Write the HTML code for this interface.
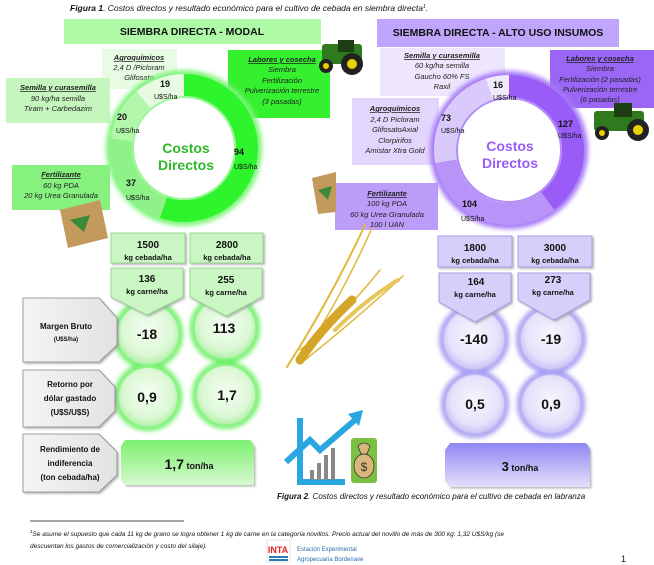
<!DOCTYPE html>
<html><head><meta charset="utf-8"><style>
html,body{margin:0;padding:0;background:#fff;}
svg{display:block;font-family:"Liberation Sans",sans-serif;}
.i{font-style:italic;}
</style></head><body>
<svg width="654" height="565" viewBox="0 0 654 565" xmlns="http://www.w3.org/2000/svg">
<defs>
<filter id="gg" x="-30%" y="-30%" width="160%" height="160%"><feGaussianBlur stdDeviation="2.5"/></filter>
<filter id="sh" x="-10%" y="-10%" width="130%" height="130%"><feDropShadow dx="1.5" dy="1.5" stdDeviation="1" flood-color="#999" flood-opacity="0.7"/></filter>
<radialGradient id="gc" cx="50%" cy="45%" r="55%"><stop offset="0" stop-color="#f4fdf2"/><stop offset="0.75" stop-color="#dcf8d6"/><stop offset="1" stop-color="#b6f0ac"/></radialGradient>
<radialGradient id="pc" cx="50%" cy="45%" r="55%"><stop offset="0" stop-color="#f8f5fe"/><stop offset="0.75" stop-color="#e6e2fb"/><stop offset="1" stop-color="#cbc3f6"/></radialGradient>
<linearGradient id="gb" x1="0" y1="0" x2="0" y2="1"><stop offset="0" stop-color="#7cf06e"/><stop offset="1" stop-color="#d6f9cf"/></linearGradient>
<linearGradient id="pb" x1="0" y1="0" x2="0" y2="1"><stop offset="0" stop-color="#8f86f2"/><stop offset="1" stop-color="#e4e0fb"/></linearGradient>
<linearGradient id="lb" x1="0" y1="0" x2="1" y2="0"><stop offset="0" stop-color="#f4f4f4"/><stop offset="1" stop-color="#e2e2e2"/></linearGradient>
</defs>

<!-- Figure 1 caption -->
<text x="70" y="11" font-size="8.5" class="i" fill="#111"><tspan font-weight="bold">Figura 1</tspan>. Costos directos y resultado económico para el cultivo de cebada en siembra directa<tspan font-size="5" dy="-3">1</tspan><tspan dy="3">.</tspan></text>

<!-- headers -->
<rect x="64" y="19" width="257" height="25" fill="#aefaa6"/>
<text x="192" y="35" font-size="10.5" font-weight="bold" text-anchor="middle" fill="#111">SIEMBRA DIRECTA - MODAL</text>
<rect x="377" y="19" width="242" height="28" fill="#bfa5fb"/>
<text x="498" y="36" font-size="10.5" font-weight="bold" text-anchor="middle" fill="#111">SIEMBRA DIRECTA - ALTO USO INSUMOS</text>

<!-- left boxes -->
<rect x="102" y="49" width="75" height="40" fill="#e8fbe3"/>
<rect x="6" y="78" width="104" height="45" fill="#c5f6bd"/>
<rect x="12" y="165" width="98" height="45" fill="#86f17e"/>
<rect x="228" y="50" width="102" height="68" fill="#35f02f"/>
<g font-size="7.5" class="i" text-anchor="middle" fill="#222">
<text x="139" y="60" font-weight="bold" text-decoration="underline">Agroquímicos</text>
<text x="139" y="70">2,4 D /Picloram</text>
<text x="139" y="80">Glifosato</text>
<text x="58" y="90" font-weight="bold" text-decoration="underline">Semilla y curasemilla</text>
<text x="58" y="101">90 kg/ha semilla</text>
<text x="58" y="111">Tiram + Carbedazim</text>
<text x="61" y="177" font-weight="bold" text-decoration="underline">Fertilizante</text>
<text x="61" y="188">60 kg PDA</text>
<text x="61" y="198">20 kg Urea Granulada</text>
<text x="282" y="62" font-weight="bold" text-decoration="underline">Labores y cosecha</text>
<text x="282" y="72">Siembra</text>
<text x="282" y="83">Fertilización</text>
<text x="282" y="93">Pulverización terrestre</text>
<text x="282" y="104">(3 pasadas)</text>
</g>

<!-- right boxes -->
<rect x="380" y="48" width="125" height="48" fill="#eee6fd"/>
<rect x="352" y="98" width="87" height="67" fill="#e3d6fc"/>
<rect x="335" y="183" width="103" height="47" fill="#bb9cf9"/>
<rect x="550" y="50" width="104" height="58" fill="#9a66f5"/>
<g font-size="7.5" class="i" text-anchor="middle" fill="#222">
<text x="442" y="58" font-weight="bold" text-decoration="underline">Semilla y curasemilla</text>
<text x="442" y="68">60 kg/ha semilla</text>
<text x="442" y="79">Gaucho 60% FS</text>
<text x="442" y="89">Raxil</text>
<text x="395" y="111" font-weight="bold" text-decoration="underline">Agroquímicos</text>
<text x="395" y="122">2,4 D Picloram</text>
<text x="395" y="132">GlifosatoAxial</text>
<text x="395" y="143">Clorpirifos</text>
<text x="395" y="153">Amistar Xtra Gold</text>
<text x="387" y="196" font-weight="bold" text-decoration="underline">Fertilizante</text>
<text x="387" y="206">100 kg PDA</text>
<text x="387" y="217">60 kg Urea Granulada</text>
<text x="387" y="227">100 l UAN</text>
<text x="600" y="61" font-weight="bold" text-decoration="underline">Labores y cosecha</text>
<text x="600" y="71">Siembra</text>
<text x="600" y="82">Fertilización (2 pasadas)</text>
<text x="600" y="92">Pulverización terrestre</text>
<text x="600" y="102">(6 pasadas)</text>
</g>

<!-- left donut -->
<circle cx="184" cy="148" r="74" fill="none" stroke="#7ef47a" stroke-width="8" filter="url(#gg)"/>
<g transform="rotate(-90 184 148)" fill="none" stroke-width="22">
<circle cx="184" cy="148" r="63" stroke="#2ef52b" stroke-dasharray="218.9 395.8" stroke-dashoffset="0"/>
<circle cx="184" cy="148" r="63" stroke="#8ef289" stroke-dasharray="86.1 395.8" stroke-dashoffset="-218.9"/>
<circle cx="184" cy="148" r="63" stroke="#b2f7aa" stroke-dasharray="46.6 395.8" stroke-dashoffset="-305"/>
<circle cx="184" cy="148" r="63" stroke="#e6fbe2" stroke-dasharray="44.2 395.8" stroke-dashoffset="-351.6"/>
</g>
<circle cx="184" cy="148" r="51" fill="#fff" stroke="#9ef59a" stroke-width="2"/>
<text x="186" y="153" font-size="14" font-weight="bold" text-anchor="middle" fill="#2eb82a">Costos</text>
<text x="186" y="170" font-size="14" font-weight="bold" text-anchor="middle" fill="#2eb82a">Directos</text>
<g fill="#111">
<text x="160" y="87" font-size="9" font-weight="bold">19</text><text x="154" y="99" font-size="7">U$S/ha</text>
<text x="117" y="120" font-size="9" font-weight="bold">20</text><text x="116" y="133" font-size="7">U$S/ha</text>
<text x="234" y="155" font-size="9" font-weight="bold">94</text><text x="234" y="169" font-size="7">U$S/ha</text>
<text x="126" y="186" font-size="9" font-weight="bold">37</text><text x="126" y="200" font-size="7">U$S/ha</text>
</g>

<!-- right donut -->
<circle cx="509" cy="150" r="75" fill="none" stroke="#a679f8" stroke-width="8" filter="url(#gg)"/>
<g transform="rotate(-90 509 150)" fill="none" stroke-width="22">
<circle cx="509" cy="150" r="64" stroke="#9a5cf6" stroke-dasharray="159.6 402.1" stroke-dashoffset="0"/>
<circle cx="509" cy="150" r="64" stroke="#b893f8" stroke-dasharray="130.7 402.1" stroke-dashoffset="-159.6"/>
<circle cx="509" cy="150" r="64" stroke="#dacafb" stroke-dasharray="91.7 402.1" stroke-dashoffset="-290.3"/>
<circle cx="509" cy="150" r="64" stroke="#f0eafd" stroke-dasharray="20.1 402.1" stroke-dashoffset="-382"/>
</g>
<circle cx="509" cy="150" r="52" fill="#fff" stroke="#b48cf8" stroke-width="2"/>
<text x="510" y="151" font-size="14" font-weight="bold" text-anchor="middle" fill="#9a5cf6">Costos</text>
<text x="510" y="168" font-size="14" font-weight="bold" text-anchor="middle" fill="#9a5cf6">Directos</text>
<g fill="#111">
<text x="493" y="88" font-size="9" font-weight="bold">16</text><text x="493" y="100" font-size="7">U$S/ha</text>
<text x="441" y="121" font-size="9" font-weight="bold">73</text><text x="441" y="133" font-size="7">U$S/ha</text>
<text x="558" y="127" font-size="9" font-weight="bold">127</text><text x="558" y="138" font-size="7">U$S/ha</text>
<text x="462" y="207" font-size="9" font-weight="bold">104</text><text x="461" y="221" font-size="7">U$S/ha</text>
</g>

<!-- tractors (simplified) -->
<g>
<rect x="322" y="44" width="40" height="20" rx="3" fill="#2f7a1e"/><rect x="338" y="40" width="16" height="12" fill="#1d3d12"/>
<circle cx="326" cy="66" r="7" fill="#222"/><circle cx="326" cy="66" r="3" fill="#e8d200"/>
<circle cx="352" cy="64" r="11" fill="#222"/><circle cx="352" cy="64" r="5" fill="#e8d200"/>
</g>
<g>
<rect x="594" y="111" width="50" height="20" rx="3" fill="#2f7a1e"/><rect x="614" y="103" width="18" height="14" fill="#1d3d12"/>
<circle cx="602" cy="133" r="7" fill="#222"/><circle cx="602" cy="133" r="3" fill="#e8d200"/>
<circle cx="638" cy="130" r="11" fill="#222"/><circle cx="638" cy="130" r="5" fill="#e8d200"/>
</g>
<!-- bags -->
<g>
<polygon points="60,210 100,200 108,238 68,248" fill="#c49a5c"/><polygon points="70,220 90,215 84,232" fill="#3a8a3a"/>
<polygon points="312,178 336,172 336,212 318,214" fill="#c49a5c"/><polygon points="318,190 332,186 328,200" fill="#3a8a3a"/>
</g>

<!-- wheat -->
<g stroke="#e0b83a" fill="none" stroke-linecap="round">
<path d="M287 367 Q330 300 365 225" stroke-width="2"/>
<path d="M300 360 Q340 300 372 228" stroke-width="1.5"/>
<path d="M305 360 Q355 320 403 276" stroke-width="1.5"/>
<path d="M300 350 Q340 320 380 270" stroke-width="1.5"/>
<path d="M300 360 Q320 330 352 300" stroke="#d4a526" stroke-width="9"/>
<path d="M335 330 Q365 300 398 280" stroke="#e7c75a" stroke-width="4"/>
</g>

<!-- lower left -->
<g filter="url(#sh)">
<rect x="111" y="233" width="74" height="30" fill="#c9f6c2" stroke="#9ad591"/>
<rect x="190" y="233" width="73" height="30" fill="#c9f6c2" stroke="#9ad591"/>
<rect x="438" y="236" width="74" height="31" fill="#d4d0fa" stroke="#a49ce8"/>
<rect x="518" y="236" width="74" height="31" fill="#d4d0fa" stroke="#a49ce8"/>
</g>
<g font-weight="bold" text-anchor="middle" fill="#111">
<text x="148" y="248" font-size="10">1500</text><text x="148" y="260" font-size="7.5">kg cebada/ha</text>
<text x="227" y="248" font-size="10">2800</text><text x="227" y="260" font-size="7.5">kg cebada/ha</text>
<text x="475" y="251" font-size="10">1800</text><text x="475" y="263" font-size="7.5">kg cebada/ha</text>
<text x="555" y="251" font-size="10">3000</text><text x="555" y="263" font-size="7.5">kg cebada/ha</text>
</g>

<!-- circles -->
<g filter="url(#gg)" fill="none" stroke-width="6">
<circle cx="148" cy="334" r="32" stroke="#6ef067"/><circle cx="225" cy="328" r="32" stroke="#6ef067"/>
<circle cx="148" cy="397" r="31" stroke="#6ef067"/><circle cx="226" cy="395" r="31" stroke="#6ef067"/>
<circle cx="474" cy="339" r="32" stroke="#a49cf2"/><circle cx="551" cy="339" r="32" stroke="#a49cf2"/>
<circle cx="475" cy="404" r="31" stroke="#a49cf2"/><circle cx="551" cy="404" r="31" stroke="#a49cf2"/>
</g>
<circle cx="148" cy="334" r="30" fill="url(#gc)"/><circle cx="225" cy="328" r="30" fill="url(#gc)"/>
<circle cx="148" cy="397" r="29" fill="url(#gc)"/><circle cx="226" cy="395" r="29" fill="url(#gc)"/>
<circle cx="474" cy="339" r="30" fill="url(#pc)"/><circle cx="551" cy="339" r="30" fill="url(#pc)"/>
<circle cx="475" cy="404" r="29" fill="url(#pc)"/><circle cx="551" cy="404" r="29" fill="url(#pc)"/>

<!-- arrow boxes -->
<g filter="url(#sh)">
<polygon points="111,268 183,268 183,297 147,315 111,297" fill="#c9f6c2" stroke="#9ad591"/>
<polygon points="190,268 262,268 262,297 226,316 190,297" fill="#c9f6c2" stroke="#9ad591"/>
<polygon points="439,273 511,273 511,302 475,322 439,302" fill="#d4d0fa" stroke="#a49ce8"/>
<polygon points="518,273 590,273 590,300 554,320 518,300" fill="#d4d0fa" stroke="#a49ce8"/>
</g>
<g font-weight="bold" text-anchor="middle" fill="#111">
<text x="147" y="282" font-size="10">136</text><text x="147" y="294" font-size="7.5">kg carne/ha</text>
<text x="226" y="283" font-size="10">255</text><text x="226" y="295" font-size="7.5">kg carne/ha</text>
<text x="476" y="285" font-size="10">164</text><text x="475" y="297" font-size="7.5">kg carne/ha</text>
<text x="553" y="283" font-size="10">273</text><text x="553" y="295" font-size="7.5">kg carne/ha</text>
</g>
<g font-weight="bold" text-anchor="middle" fill="#111" font-size="14">
<text x="147" y="339">-18</text><text x="224" y="333">113</text>
<text x="147" y="402">0,9</text><text x="227" y="400">1,7</text>
<text x="474" y="344">-140</text><text x="551" y="344">-19</text>
<text x="475" y="409">0,5</text><text x="551" y="409">0,9</text>
</g>

<!-- label pentagons -->
<g filter="url(#sh)" fill="url(#lb)" stroke="#888" stroke-width="0.8">
<polygon points="23,298 99,298 117,318 117,345 99,362 23,362"/>
<polygon points="23,370 99,370 115,387 115,411 99,427 23,427"/>
<polygon points="23,434 99,434 117,452 117,475 99,492 23,492"/>
</g>
<g text-anchor="middle" fill="#111" font-weight="bold">
<text x="66" y="329" font-size="8">Margen Bruto</text><text x="66" y="341" font-size="6">(U$S/ha)</text>
<text x="70" y="387" font-size="8">Retorno por</text><text x="70" y="401" font-size="8">dólar gastado</text><text x="70" y="415" font-size="8">(U$S/U$S)</text>
<text x="70" y="452" font-size="8">Rendimiento de</text><text x="70" y="466" font-size="8">indiferencia</text><text x="70" y="480" font-size="8">(ton cebada/ha)</text>
</g>

<!-- ton boxes -->
<g filter="url(#sh)">
<polygon points="125,440 250,440 254,446 254,485 125,485 121,479 121,446" fill="url(#gb)"/>
<polygon points="450,443 586,443 590,449 590,487 450,487 445,480 445,450" fill="url(#pb)"/>
</g>
<text x="189" y="469" text-anchor="middle" fill="#111" font-weight="bold"><tspan font-size="14">1,7</tspan><tspan font-size="9"> ton/ha</tspan></text>
<text x="520" y="471" text-anchor="middle" fill="#111" font-weight="bold"><tspan font-size="13">3</tspan><tspan font-size="9"> ton/ha</tspan></text>

<!-- chart icon -->
<g>
<path d="M300 418 V482 H345" stroke="#2aa7e0" stroke-width="6" fill="none"/>
<rect x="310" y="470" width="4" height="10" fill="#888"/><rect x="317" y="463" width="4" height="17" fill="#888"/>
<rect x="324" y="455" width="4" height="25" fill="#888"/><rect x="331" y="448" width="4" height="32" fill="#888"/>
<path d="M286 462 L310 440 L320 450 L355 420" stroke="#2aa7e0" stroke-width="6" fill="none"/>
<polygon points="348,414 363,410 359,426" fill="#2aa7e0"/>
<rect x="351" y="438" width="26" height="45" rx="3" fill="#7bc043"/>
<ellipse cx="364" cy="466" rx="10" ry="12" fill="#d9b77a" stroke="#333" stroke-width="0.8"/>
<path d="M358 446 Q364 440 370 446 L367 454 H361 Z" fill="#d9b77a" stroke="#333" stroke-width="0.8"/>
<text x="364" y="471" font-size="12" text-anchor="middle" fill="#333">$</text>
</g>

<!-- Figure 2 caption -->
<text x="277" y="499" font-size="8" class="i" fill="#111"><tspan font-weight="bold">Figura 2</tspan>. Costos directos y resultado económico para el cultivo de cebada en labranza</text>

<!-- footnote -->
<line x1="30" y1="521" x2="184" y2="521" stroke="#111" stroke-width="0.8"/>
<text x="30" y="536" font-size="6.5" class="i" fill="#111"><tspan font-size="4.5" dy="-3">1</tspan><tspan dy="3">Se asume el supuesto que cada 11 kg de grano se logra obtener 1 kg de carne en la categoría novillos. Precio actual del novillo de más de 300 kg: 1,32 U$S/kg (se</tspan></text>
<text x="30" y="548" font-size="6.5" class="i" fill="#111">descuentan los gastos de comercialización y costo del silaje).</text>
<rect x="267" y="540" width="23" height="22" fill="#fff" stroke="#ccc" stroke-width="0.5"/>
<text x="278" y="553" font-size="9" font-weight="bold" text-anchor="middle" fill="#d22">INTA</text>
<rect x="269" y="556" width="19" height="2" fill="#2a7ab8"/><rect x="269" y="559" width="19" height="2" fill="#2a7ab8"/>
<text x="297" y="551" font-size="6" fill="#2a6bb0">Estación Experimental</text>
<text x="297" y="561" font-size="6" fill="#2a6bb0">Agropecuaria Bordenave</text>
<text x="621" y="562" font-size="9" fill="#111">1</text>
</svg>
</body></html>
